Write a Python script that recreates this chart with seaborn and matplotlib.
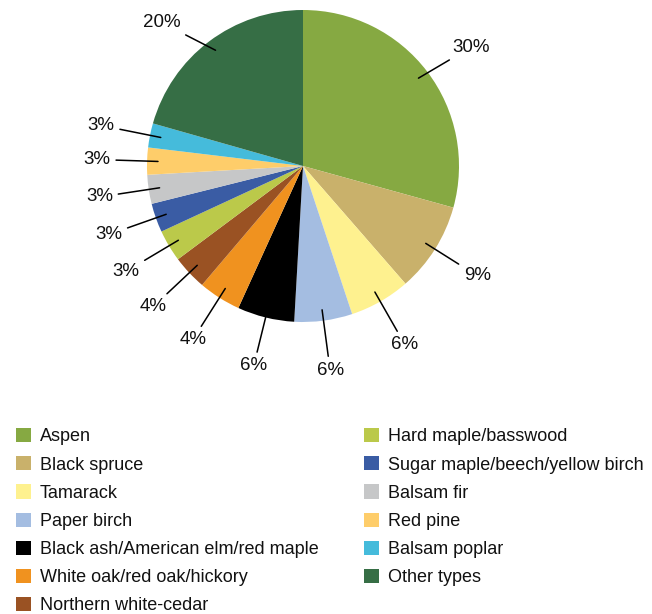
import numpy as np
import matplotlib
matplotlib.use("Agg")
from matplotlib import pyplot as plt
from matplotlib.patches import Patch
import seaborn as sns

# Forest type shares
forest_types = ["Aspen", "Black spruce", "Tamarack", "Paper birch",
                "Black ash/American elm/red maple", "White oak/red oak/hickory",
                "Northern white-cedar", "Hard maple/basswood",
                "Sugar maple/beech/yellow birch", "Balsam fir", "Red pine",
                "Balsam poplar", "Other types"]
shares = [29.3, 9.3, 6.3, 6.0, 5.9, 4.4, 3.6, 3.3, 3.0, 3.0, 2.8, 2.5, 20.6]
share_labels = ["30%", "9%", "6%", "6%", "6%", "4%", "4%", "3%", "3%", "3%",
                "3%", "3%", "20%"]
type_colors = ["#86A942", "#C9B16B", "#FEF18F", "#A4BDE1", "#000000", "#F0921F",
               "#9A5223", "#BBC94A", "#3A5CA4", "#C6C7C8", "#FECD6A", "#45BBDB",
               "#366E45"]

sns.set_theme(style="white")
plt.rcParams['font.family'] = ['Liberation Sans', 'DejaVu Sans']
palette = sns.color_palette(type_colors)

fig = plt.figure(figsize=(6.52, 6.14), dpi=100)
ax = fig.add_axes([147 / 652, (614 - 322) / 614, 312 / 652, 312 / 614])

wedges, _ = ax.pie(shares, colors=palette, startangle=90, counterclock=False,
                   radius=1, wedgeprops=dict(linewidth=0))
ax.set_xlim(-1, 1)
ax.set_ylim(-1, 1)
ax.set_aspect("equal")

# label placement nudges (degrees) so the top label stays inside the figure
nudge = {"Other types": 7.5, "Aspen": -2}

for w, name, lab in zip(wedges, forest_types, share_labels):
    mid = np.deg2rad((w.theta1 + w.theta2) / 2)
    lab_ang = mid + np.deg2rad(nudge.get(name, 0))
    dist = 1.29 if name == "Other types" else 1.32
    start = (0.93 * np.cos(mid), 0.93 * np.sin(mid))
    pos = (dist * np.cos(lab_ang), dist * np.sin(lab_ang))
    ax.annotate(lab, xy=start, xytext=pos, ha="center", va="center",
                fontsize=13.5, color="#111111",
                arrowprops=dict(arrowstyle="-", color="black", lw=1.1,
                                shrinkA=1.5, shrinkB=0))

handles = [Patch(facecolor=c, edgecolor="none") for c in palette]
fig.legend(handles=handles, labels=forest_types, ncol=2, loc="upper left",
           bbox_to_anchor=(16 / 652, 1 - 428 / 614), frameon=False,
           fontsize=13, handlelength=0.83, handleheight=0.83,
           handletextpad=0.5, labelspacing=0.6, columnspacing=2.5,
           borderpad=0, borderaxespad=0, labelcolor="#111111")

fig.savefig("out.png", dpi=100)
